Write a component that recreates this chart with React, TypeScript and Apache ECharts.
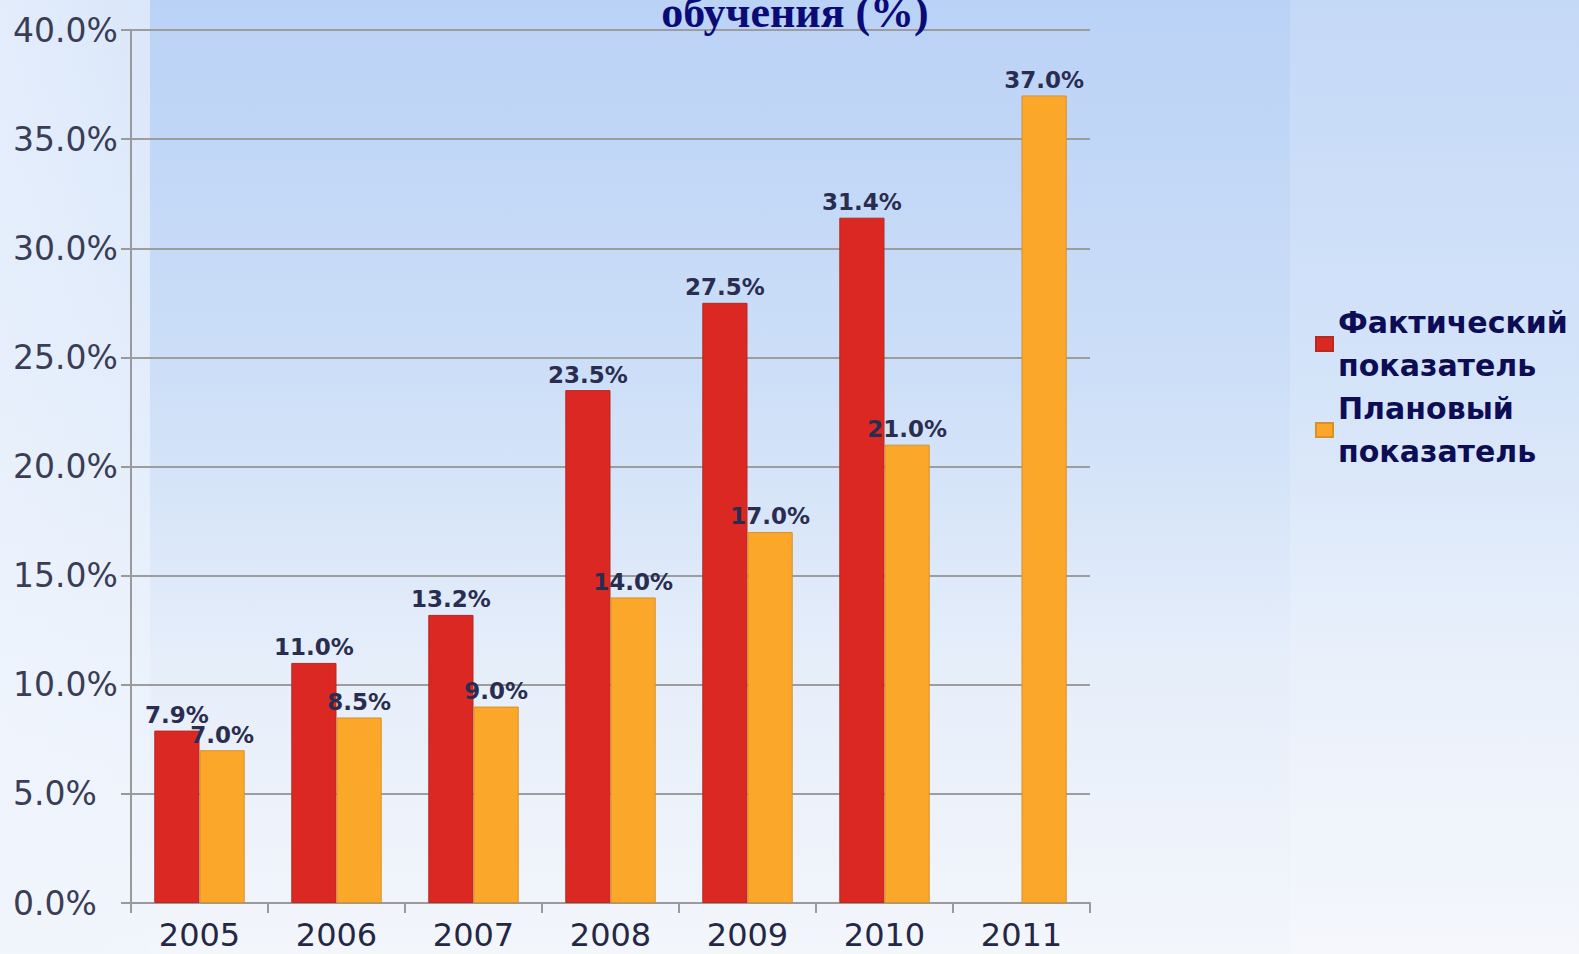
import React, { useEffect, useRef } from "react";
import * as echarts from "echarts";

const years = ["2005", "2006", "2007", "2008", "2009", "2010", "2011"];
const actual = [7.9, 11.0, 13.2, 23.5, 27.5, 31.4, null];
const planned = [7.0, 8.5, 9.0, 14.0, 17.0, 21.0, 37.0];
const seriesNames = ["Фактический показатель", "Плановый показатель"];
const titleText = "обучения (%)";

export default function App() {
  const ref = useRef<HTMLDivElement>(null);
  useEffect(() => {
    document.body.style.margin = "0";
    const chart = echarts.init(ref.current!, null, { renderer: "svg" });
    const labelStyle = {
      show: true,
      position: "top",
      distance: 4,
      fontFamily: "DejaVu Sans",
      fontWeight: "bold",
      fontSize: 23,
      color: "#2a2d4f",
      formatter: (p: any) => (p.value == null ? "" : Number(p.value).toFixed(1) + "%"),
    };
    chart.setOption({
      animation: false,
      backgroundColor: "transparent",
      title: {
        text: titleText,
        left: 790,
        top: -15,
        textAlign: "center",
        textStyle: {
          fontFamily: "Liberation Serif",
          fontWeight: "bold",
          fontSize: 44,
          color: "#0b0b78",
        },
      },
      legend: {
        orient: "vertical",
        left: 1310,
        top: 296,
        itemGap: 0,
        itemWidth: 17,
        itemHeight: 14,
        icon: "rect",
        data: seriesNames,
        formatter: (n: string) => n.replace(" ", "\n"),
        textStyle: {
          fontFamily: "DejaVu Sans",
          fontWeight: "bold",
          fontSize: 30,
          lineHeight: 43,
          color: "#0d0d55",
        },
      },
      grid: { left: 131, right: 489, top: 30, bottom: 51, containLabel: false },
      xAxis: {
        type: "category",
        data: years,
        axisLine: { lineStyle: { color: "#9a9a9a", width: 2 } },
        axisTick: { show: true, length: 10, lineStyle: { color: "#9a9a9a", width: 2 } },
        axisLabel: {
          margin: 16,
          fontFamily: "DejaVu Sans",
          fontSize: 32,
          color: "#252845",
        },
      },
      yAxis: {
        type: "value",
        min: 0,
        max: 40,
        interval: 5,
        axisLine: { show: true, lineStyle: { color: "#9a9a9a", width: 2 } },
        axisTick: { show: true, length: 10, lineStyle: { color: "#9a9a9a", width: 2 } },
        splitLine: { lineStyle: { color: "#9d9d9d", width: 2 } },
        axisLabel: {
          margin: 118,
          align: "left",
          fontFamily: "DejaVu Sans",
          fontSize: 33,
          color: "#3a3d55",
          formatter: (v: number) => v.toFixed(1) + "%",
        },
      },
      series: [
        {
          name: seriesNames[0],
          type: "bar",
          data: actual,
          barGap: "0%",
          barCategoryGap: "34%",
          itemStyle: { color: "#dc2823", borderColor: "#b52a22", borderWidth: 1 },
          label: labelStyle,
        },
        {
          name: seriesNames[1],
          type: "bar",
          data: planned,
          barGap: "0%",
          barCategoryGap: "34%",
          itemStyle: { color: "#fba82a", borderColor: "#d98f2a", borderWidth: 1 },
          label: labelStyle,
        },
      ],
    });
    return () => chart.dispose();
  }, []);
  return (
    <div
      ref={ref}
      style={{
        width: 1579,
        height: 954,
        background:
          "linear-gradient(to right, rgba(240,245,253,0.75) 0px, rgba(240,245,253,0.6) 150px, rgba(255,255,255,0) 150px, rgba(255,255,255,0) 1290px, rgba(255,255,255,0.15) 1290px), linear-gradient(to bottom, #bad2f6 0%, #cddff8 40%, #e6eefa 70%, #f3f6fb 100%)",
      }}
    />
  );
}
